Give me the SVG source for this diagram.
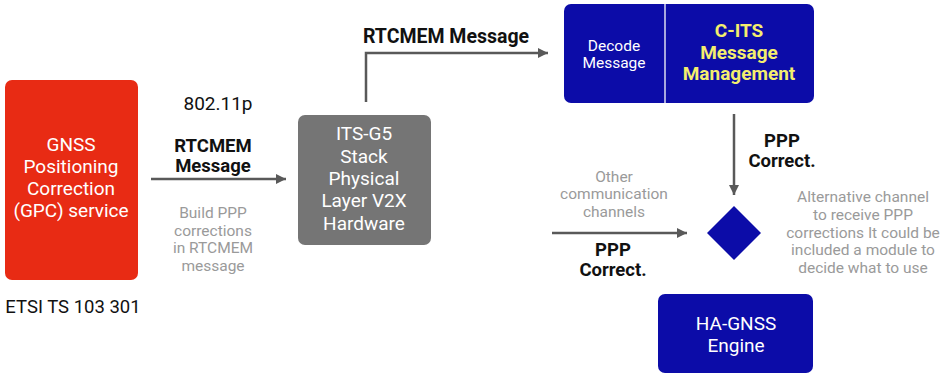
<svg xmlns="http://www.w3.org/2000/svg" width="952" height="374" viewBox="0 0 952 374">
<defs>
<marker id="ah" viewBox="0 0 10 10" refX="10" refY="5" markerWidth="10" markerHeight="10" markerUnits="userSpaceOnUse" orient="auto">
<path d="M0,0 L10,5 L0,10 z" fill="#595959"/>
</marker>
<style>
text{font-family:Roboto,"Liberation Sans",sans-serif;text-anchor:middle}
.w{fill:#fff;font-size:19px}
.b{fill:#111;font-size:18.5px;font-weight:bold}
.g{fill:#9a9a9a;font-size:15.5px}
.k{fill:#111;font-size:19px}
.y{fill:#f4ee6e;font-size:19px;font-weight:bold}
.c{fill:none;stroke:#595959;stroke-width:2.5;marker-end:url(#ah)}
.blue{fill:#0c0ca8}
</style>
</defs>
<rect width="952" height="374" fill="#fff"/>
<g id="gpc">
<rect x="5" y="80" width="133" height="200" rx="7" fill="#e82b14"/>
<text class="w" x="71" y="151">GNSS</text>
<text class="w" x="71" y="173">Positioning</text>
<text class="w" x="71" y="195">Correction</text>
<text class="w" x="71" y="217">(GPC) service</text>
<text class="k" x="73" y="313" style="font-size:18.5px">ETSI TS 103 301</text>
</g>
<g id="itsg5">
<rect x="298" y="115" width="133" height="130" rx="7" fill="#757575"/>
<text class="w" x="364" y="140">ITS-G5</text>
<text class="w" x="364" y="163">Stack</text>
<text class="w" x="364" y="185">Physical</text>
<text class="w" x="364" y="207">Layer V2X</text>
<text class="w" x="364" y="230">Hardware</text>
</g>
<g id="cits">
<rect x="564" y="4" width="250" height="99" rx="7" class="blue"/>
<line x1="665" y1="4" x2="665" y2="103" stroke="#dcdcf0" stroke-width="1.5"/>
<text x="614" y="50.5" style="fill:#fff;font-size:15.5px">Decode</text>
<text x="614" y="68" style="fill:#fff;font-size:15.5px">Message</text>
<text class="y" x="739" y="37">C-ITS</text>
<text class="y" x="739" y="58.5">Message</text>
<text class="y" x="739" y="80">Management</text>
</g>
<g id="decision">
<path d="M734,206 L761,233 L734,260 L707,233 z" class="blue"/>
</g>
<g id="hagnss">
<rect x="658" y="294" width="155" height="79" rx="7" class="blue"/>
<text class="w" x="736" y="330">HA-GNSS</text>
<text class="w" x="736" y="352">Engine</text>
</g>
<g id="connectors">
<line x1="151" y1="179" x2="286" y2="179" class="c"/>
<polyline points="366,102 366,53 548,53" class="c"/>
<line x1="734" y1="114" x2="734" y2="195" class="c"/>
<line x1="552" y1="233" x2="687" y2="233" class="c"/>
</g>
<g id="labels">
<text class="k" x="218" y="110">802.11p</text>
<text class="b" x="213" y="151.5">RTCMEM</text>
<text class="b" x="213" y="171.5">Message</text>
<text class="g" x="213" y="218">Build PPP</text>
<text class="g" x="213" y="235.5">corrections</text>
<text class="g" x="213" y="253">in RTCMEM</text>
<text class="g" x="213" y="270.5">message</text>
<text class="b" x="446" y="43" style="font-size:19.5px">RTCMEM Message</text>
<text class="b" x="782" y="146.5">PPP</text>
<text class="b" x="782" y="166.5">Correct.</text>
<text class="g" x="614" y="181.5">Other</text>
<text class="g" x="614" y="199">communication</text>
<text class="g" x="614" y="216.5">channels</text>
<text class="b" x="613" y="255.5">PPP</text>
<text class="b" x="613" y="275.5">Correct.</text>
<text class="g" x="863" y="202">Alternative channel</text>
<text class="g" x="863" y="219.8">to receive PPP</text>
<text class="g" x="863" y="237.5">corrections It could be</text>
<text class="g" x="863" y="255.3">included a module to</text>
<text class="g" x="863" y="273">decide what to use</text>
</g>
</svg>
